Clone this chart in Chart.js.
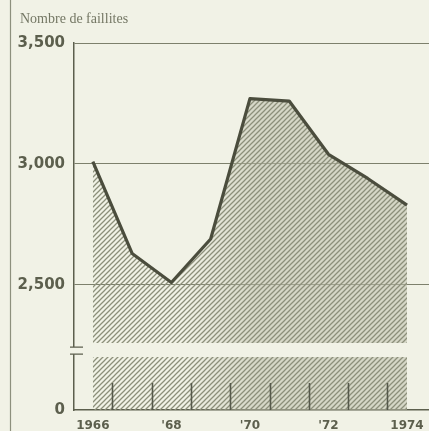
<!DOCTYPE html>
<html><head><meta charset="utf-8">
<script src="https://cdn.jsdelivr.net/npm/chart.js@4.4.1/dist/chart.umd.min.js"></script>
<style>html,body{margin:0;padding:0;background:#f1f2e6;}#wrap{width:429px;height:431px;position:relative}</style>
</head><body><div id="wrap"><canvas id="c" width="429" height="431"></canvas></div>
<script>
const titleText = 'Nombre de faillites';
const years = [1966, 1967, 1968, 1969, 1970, 1971, 1972, 1973, 1974];
const faillites = [3010, 2630, 2510, 2690, 3270, 3260, 3040, 2940, 2830];
const yTickValues = [1983, 2500, 3000, 3500];
const yTickLabels = ['0', '2,500', '3,000', '3,500'];
const xTickValues = [1966, 1968, 1970, 1972, 1974];
const xTickLabels = ['1966', "'68", "'70", "'72", '1974'];
const minorMarks = [1966.5, 1967.5, 1968.5, 1969.5, 1970.5, 1971.5, 1972.5, 1973.5];

const BG = '#f1f2e6';
const INK = '#5c5f4d';
const canvas = document.getElementById('c');
const ctx = canvas.getContext('2d');

function hatch() {
  const s = 5;
  const c = document.createElement('canvas');
  c.width = s; c.height = s;
  const x = c.getContext('2d');
  x.strokeStyle = '#8c8f7a';
  x.lineWidth = 1.25;
  x.beginPath();
  x.moveTo(0, s); x.lineTo(s, 0);
  x.moveTo(-1, 1); x.lineTo(1, -1);
  x.moveTo(s - 1, s + 1); x.lineTo(s + 1, s - 1);
  x.stroke();
  return ctx.createPattern(c, 'repeat');
}

const deco = {
  id: 'deco',
  beforeDraw(chart) {
    const c = chart.ctx;
    c.save();
    c.fillStyle = BG;
    c.fillRect(0, 0, chart.width, chart.height);
    c.restore();
  },
  afterDatasetsDraw(chart) {
    const c = chart.ctx;
    const xs = chart.scales.x, ys = chart.scales.y;
    const a = chart.chartArea;
    c.save();
    const bTop = ys.getPixelForValue(2260), bBot = ys.getPixelForValue(2202);
    c.fillStyle = BG;
    c.fillRect(a.left + 1, bTop, xs.getPixelForValue(1974) + 6 - a.left, bBot - bTop);
    const d1 = ys.getPixelForValue(2243), d2 = ys.getPixelForValue(2214);
    c.fillRect(a.left - 3, d1, 6, d2 - d1);
    c.strokeStyle = INK; c.lineWidth = 1.3;
    c.beginPath();
    c.moveTo(a.left - 4, d1); c.lineTo(a.left + 9, d1);
    c.moveTo(a.left - 4, d2); c.lineTo(a.left + 9, d2);
    c.stroke();
    c.strokeStyle = '#55584a'; c.lineWidth = 1.6;
    c.beginPath();
    const mt = ys.getPixelForValue(2095);
    minorMarks.forEach(m => {
      const px = Math.round(xs.getPixelForValue(m)) + 0.5;
      c.moveTo(px, mt); c.lineTo(px, a.bottom);
    });
    c.stroke();
    c.restore();
  },
  afterDraw(chart) {
    const c = chart.ctx;
    c.save();
    c.fillStyle = '#747764';
    c.font = '14px "Liberation Serif", serif';
    c.textBaseline = 'middle';
    c.fillText(titleText, 20, 19);
    c.strokeStyle = '#8d907d'; c.lineWidth = 1.2;
    c.beginPath(); c.moveTo(10.5, 0); c.lineTo(10.5, chart.height); c.stroke();
    c.restore();
  }
};

new Chart(canvas, {
  type: 'line',
  data: {
    datasets: [
      {
        data: years.map((y, i) => ({x: y, y: faillites[i]})),
        borderColor: '#4b4d3d',
        borderWidth: 3.2,
        borderJoinStyle: 'round',
        pointRadius: 0,
        tension: 0,
        fill: 'start',
        backgroundColor: hatch(),
        order: 1
      },
      {
        data: years.map((y, i) => ({x: y, y: faillites[i]})),
        borderWidth: 0,
        pointRadius: 0,
        tension: 0,
        fill: 'start',
        backgroundColor: (context) => {
          const ch = context.chart;
          const a = ch.chartArea;
          if (!a) return 'rgba(0,0,0,0)';
          const xs = ch.scales.x;
          const g = ch.ctx.createLinearGradient(xs.getPixelForValue(1968.3), 0, xs.getPixelForValue(1970.2), 0);
          g.addColorStop(0, 'rgba(190,192,172,0)');
          g.addColorStop(1, 'rgba(190,192,172,0.55)');
          return g;
        },
        order: 2
      }
    ]
  },
  options: {
    responsive: false,
    animation: false,
    devicePixelRatio: 1,
    layout: {padding: {top: 43, right: 0, left: 0, bottom: 0}},
    plugins: {legend: {display: false}, tooltip: {enabled: false}, title: {display: false}},
    scales: {
      x: {
        type: 'linear',
        min: 1965.52,
        max: 1974.56,
        afterFit(s) { s.height = 21; s.paddingLeft = 0; s.paddingRight = 0; },
        afterBuildTicks(s) { s.ticks = xTickValues.map(v => ({value: v})); },
        grid: {display: false, drawTicks: false},
        border: {display: true, color: INK, width: 1.5},
        ticks: {
          autoSkip: false,
          maxRotation: 0,
          padding: 9,
          color: INK,
          font: {family: '"DejaVu Sans", sans-serif', size: 12, weight: 'bold'},
          callback: (v) => xTickLabels[xTickValues.indexOf(v)]
        }
      },
      y: {
        type: 'linear',
        min: 1983,
        max: 3500,
        afterFit(s) { s.width = 74; s.paddingTop = 0; s.paddingBottom = 0; },
        afterBuildTicks(s) { s.ticks = yTickValues.map(v => ({value: v})); },
        grid: {
          drawTicks: false,
          color: (c) => (c.tick && c.tick.value === yTickValues[0]) ? 'rgba(0,0,0,0)' : '#7d806c',
          lineWidth: 1
        },
        border: {display: true, color: INK, width: 1.5},
        ticks: {
          autoSkip: false,
          padding: 9,
          color: INK,
          font: {family: '"DejaVu Sans", sans-serif', size: 15, weight: 'bold'},
          callback: (v) => yTickLabels[yTickValues.indexOf(v)]
        }
      }
    }
  },
  plugins: [deco]
});
</script>
</body></html>
